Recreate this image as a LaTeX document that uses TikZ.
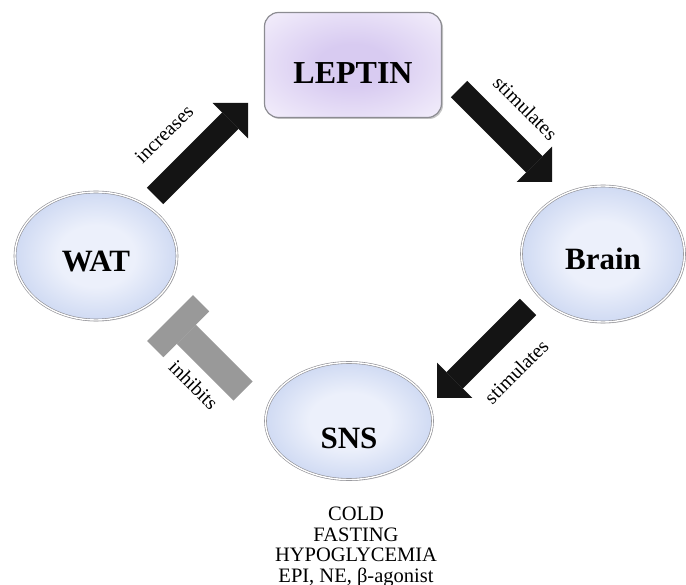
\documentclass[tikz,border=0pt]{standalone}
\usepackage{fontspec}
\setmainfont{Liberation Serif}
\usepackage{xcolor}
\usepackage{tikz}
\usetikzlibrary{shapes.geometric, arrows.meta, positioning, shadows}
\definecolor{lilaccore}{RGB}{216, 203, 241}
\definecolor{lilacedge}{RGB}{248, 245, 253}
\definecolor{bluecore}{RGB}{236, 240, 251}
\definecolor{blueedge}{RGB}{184, 200, 236}
\definecolor{rimgray}{RGB}{140, 140, 146}
\definecolor{inhgray}{RGB}{153, 153, 153}
\definecolor{inkblack}{RGB}{20, 20, 20}
\pgfdeclareradialshading{lilacglow}{\pgfpoint{0bp}{0bp}}{color(0bp)=(lilaccore); color(10bp)=(lilaccore); color(40bp)=(lilacedge); color(50bp)=(lilacedge)}
\pgfdeclareradialshading{blueglow}{\pgfpoint{0bp}{0bp}}{color(0bp)=(bluecore); color(12bp)=(bluecore); color(36bp)=(blueedge); color(50bp)=(blueedge)}
\tikzstyle{hormone} = [rectangle, rounded corners=14pt, minimum width=177pt, minimum height=105pt, shading=lilacglow, draw=rimgray, line width=1.2pt, drop shadow={shadow xshift=1.5pt, shadow yshift=-1.5pt, opacity=.45}, text height=37pt, text depth=0pt, font=\fontsize{32}{36}\selectfont\bfseries]
\tikzstyle{organ} = [ellipse, minimum width=162pt, minimum height=128pt, shading=blueglow, draw=rimgray, double=white, double distance=1.4pt, line width=.6pt, drop shadow={shadow xshift=1pt, shadow yshift=-1.5pt, opacity=.3}, text height=31pt, text depth=0pt, font=\fontsize{31}{34}\selectfont\bfseries]
\tikzstyle{cue} = [align=center, inner sep=0pt, font=\fontsize{20.5}{20.7}\selectfont]
\tikzstyle{tag} = [sloped, inner sep=0pt, text=black, font=\fontsize{20}{22}\selectfont]
\tikzstyle{effect} = [line width=23pt, -{Triangle[length=25pt, width=50pt, line width=0pt]}, color=inkblack]
\tikzstyle{blocker} = [line width=27pt, -{Rectangle[length=23pt, width=65pt, line width=0pt]}, color=inhgray]

\begin{document}
\begin{tikzpicture}[x=1pt, y=-1pt]
    \useasboundingbox (0,0) rectangle (686,585);

    % Nodes
    \node (leptin) [hormone] at (353,65) {LEPTIN};
    \node (wat) [organ] at (96,256) {WAT};
    \node (brain) [organ, minimum width=163pt, minimum height=136pt] at (603,254) {Brain};
    \node (sns) [organ, minimum width=167pt, minimum height=117pt, text height=56pt] at (349,421) {SNS};
    \node (cues) [cue, below=27pt of sns, xshift=7pt] {COLD\\FASTING\\HYPOGLYCEMIA\\EPI, NE, β-agonist};

    % Arrow ends
    \coordinate (incTail) at (155,196);
    \coordinate (incTip) at (248,103);
    \coordinate (stimTail) at (459,89);
    \coordinate (stimTip) at (552,182);
    \coordinate (sympTail) at (528,307);
    \coordinate (sympTip) at (437,398);
    \coordinate (inhTail) at (243,391);
    \coordinate (inhBar) at (170,318);

    % Arrows
    \draw [effect] (incTail) -- node[tag, pos=.38, above=19pt] {increases} (incTip);
    \draw [effect] (stimTail) -- node[tag, pos=.46, above=15pt] {stimulates} (stimTip);
    \draw [effect] (sympTail) -- node[tag, pos=.42, below=19pt] {stimulates} (sympTip);
    \draw [blocker] (inhTail) -- node[tag, pos=.38, below=10pt] {inhibits} (inhBar);
\end{tikzpicture}
\end{document}
